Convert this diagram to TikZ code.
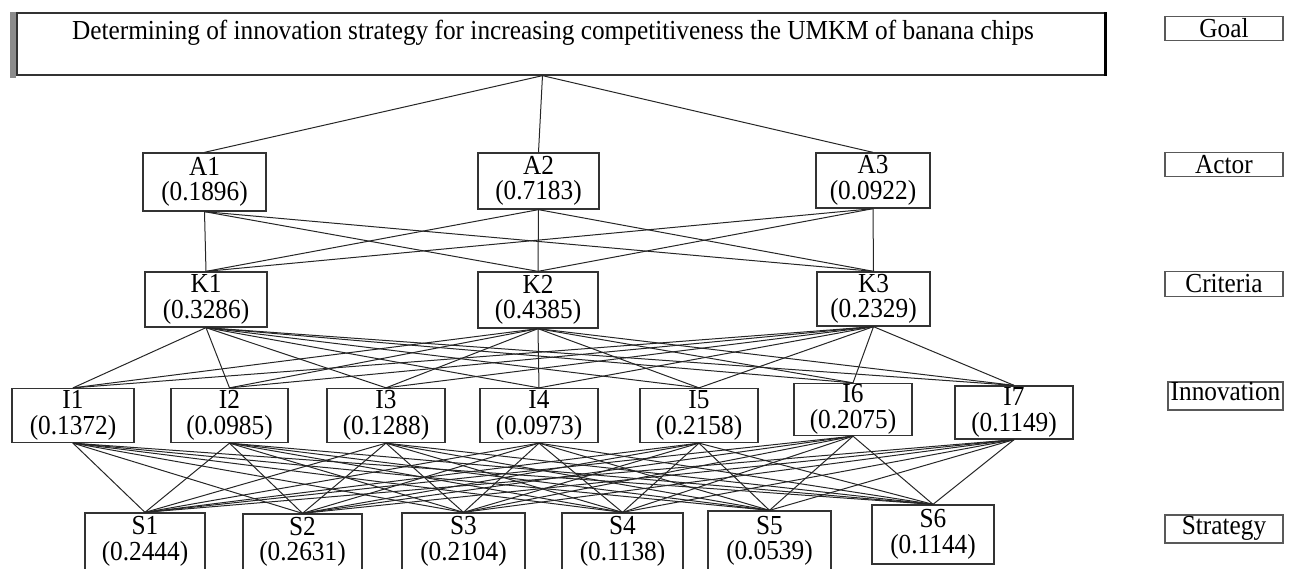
\documentclass[tikz,border=0pt]{standalone}
\usepackage{fontspec}
\setmainfont{Liberation Serif}[FakeStretch=0.92]
\usetikzlibrary{calc}
\begin{document}
\begin{tikzpicture}[x=1pt,y=-1pt,
  txt/.style={font=\fontsize{27.5}{25.5}\selectfont},
  box/.style={txt, draw=black!80, line width=1.3pt, inner sep=0pt, align=center},
  lab/.style={txt, draw=black!65, line width=1.5pt, inner sep=0pt, minimum width=118pt},
  link/.style={draw=black!85, line width=1pt}]
\useasboundingbox (0,0) rectangle (1293,568);

% goal
\node[draw=black!80, line width=1.3pt, minimum width=1088pt, minimum height=62pt, inner sep=0pt] (goal) at (561,44) {};
\draw[black!45, line width=6pt] ([xshift=-3pt]goal.north west) -- ([xshift=-3pt,yshift=-2pt]goal.south west);
\draw[black, line width=2.4pt] (goal.north east) -- (goal.south east);
\node[txt] (goaltext) at (553,33) {Determining of innovation strategy for increasing competitiveness the UMKM of banana chips};
\coordinate (gb) at ($(goal.south west)!0.483!(goal.south east)$);

% actors
\node[box, minimum width=123pt, minimum height=58pt] (A1) at (204.5,182) {A1\\(0.1896)};
\node[box, minimum width=121pt, minimum height=56pt] (A2) at (538.5,181) {A2\\(0.7183)};
\node[box, minimum width=114pt, minimum height=55pt] (A3) at (873,180.5) {A3\\(0.0922)};

% criteria
\node[box, minimum width=122pt, minimum height=55pt] (K1) at (206,299.5) {K1\\(0.3286)};
\node[box, minimum width=120pt, minimum height=56pt] (K2) at (538,300) {K2\\(0.4385)};
\node[box, minimum width=113pt, minimum height=54pt] (K3) at (873.5,299) {K3\\(0.2329)};

% innovation
\node[box, minimum width=122pt, minimum height=54pt] (I1) at (73,415.5) {I1\\(0.1372)};
\node[box, minimum width=117pt, minimum height=54pt] (I2) at (229.5,415.5) {I2\\(0.0985)};
\node[box, minimum width=118pt, minimum height=54pt] (I3) at (386,415.5) {I3\\(0.1288)};
\node[box, minimum width=118pt, minimum height=54pt] (I4) at (539,415.5) {I4\\(0.0973)};
\node[box, minimum width=118pt, minimum height=54pt] (I5) at (699,415.5) {I5\\(0.2158)};
\node[box, minimum width=118pt, minimum height=52pt] (I6) at (853,409.5) {I6\\(0.2075)};
\node[box, minimum width=118pt, minimum height=53pt] (I7) at (1014,412.5) {I7\\(0.1149)};

% strategy
\node[box, minimum width=120pt, minimum height=57pt] (S1) at (145,541.5) {S1\\(0.2444)};
\node[box, minimum width=119pt, minimum height=56pt] (S2) at (302.5,542) {S2\\(0.2631)};
\node[box, minimum width=123pt, minimum height=57pt] (S3) at (463.5,541.5) {S3\\(0.2104)};
\node[box, minimum width=121pt, minimum height=57pt] (S4) at (622.5,541.5) {S4\\(0.1138)};
\node[box, minimum width=123pt, minimum height=60pt] (S5) at (769.5,541) {S5\\(0.0539)};
\node[box, minimum width=122pt, minimum height=59pt] (S6) at (933,534.5) {S6\\(0.1144)};

% level labels
\node[lab, minimum height=24pt] (Lgoal) at (1224,28.5) {Goal};
\node[lab, minimum height=24pt] (Lactor) at (1224,164.5) {Actor};
\node[lab, minimum height=25pt] (Lcrit) at (1224,284) {Criteria};
\node[lab, minimum width=115pt, minimum height=28pt, text depth=9pt] (Linno) at (1225.5,396) {Innovation};
\node[lab, minimum height=28pt, text depth=8pt] (Lstrat) at (1224,529) {Strategy};

% connectors
\foreach \a in {A1,A2,A3} \draw[link] (gb) -- (\a.north);
\foreach \a in {A1,A2,A3} \foreach \k in {K1,K2,K3} \draw[link] (\a.south) -- (\k.north);
\foreach \k in {K1,K2,K3} \foreach \i in {I1,I2,I3,I4,I5,I6,I7} \draw[link] (\k.south) -- (\i.north);
\foreach \i in {I1,I2,I3,I4,I5,I6,I7} \foreach \s in {S1,S2,S3,S4,S5,S6} \draw[link] (\i.south) -- (\s.north);
\end{tikzpicture}
\end{document}
